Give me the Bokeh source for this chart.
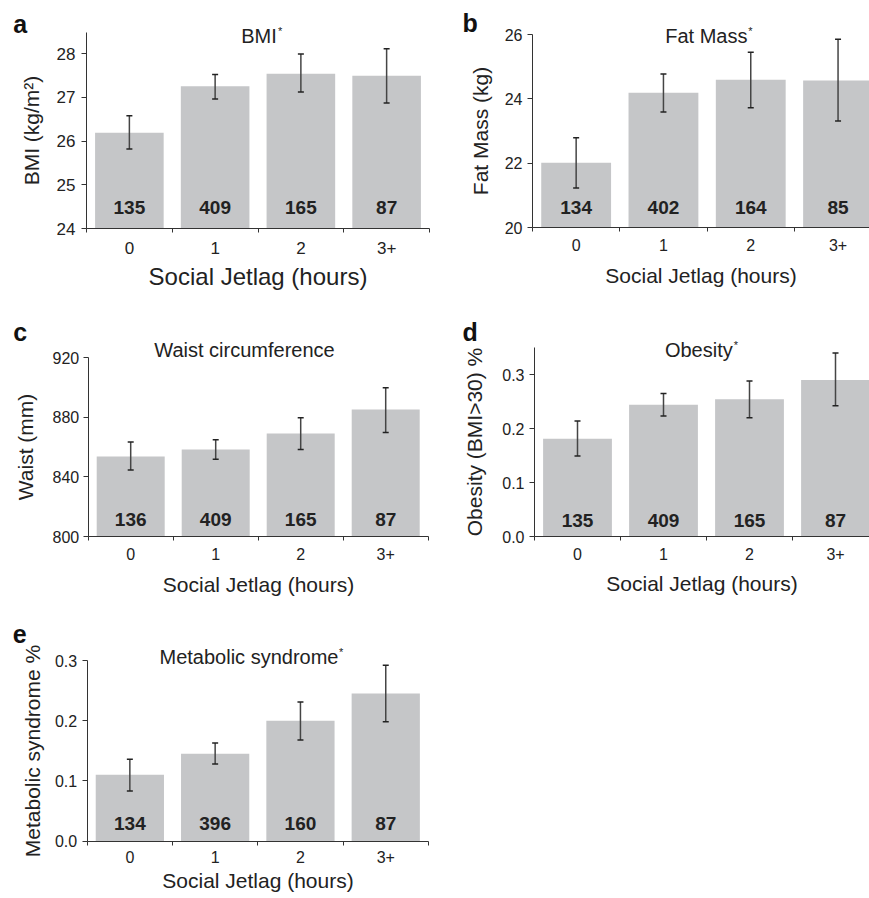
from bokeh.plotting import figure
from bokeh.layouts import column, row
from bokeh.models import (FixedTicker, Label, Range1d, ColumnDataSource, Whisker,
                          TeeHead, NumeralTickFormatter)
from bokeh.embed import file_html
from bokeh.resources import INLINE
from bokeh.core.properties import value

# ---------------- data ----------------
categories = ["0", "1", "2", "3+"]
xlabel = "Social Jetlag (hours)"

bmi_mean = [26.19, 27.25, 27.54, 27.49]
bmi_lo = [25.82, 26.96, 27.12, 26.87]
bmi_hi = [26.58, 27.52, 27.99, 28.11]
bmi_n = [135, 409, 165, 87]
bmi_ticks = [24, 25, 26, 27, 28]

fat_mean = [22.01, 24.19, 24.59, 24.57]
fat_lo = [21.23, 23.59, 23.72, 23.31]
fat_hi = [22.79, 24.77, 25.45, 25.85]
fat_n = [134, 402, 164, 85]
fat_ticks = [20, 22, 24, 26]

waist_mean = [853.7, 858.4, 869.2, 885.3]
waist_lo = [844.6, 851.9, 858.4, 869.9]
waist_hi = [863.4, 864.9, 879.7, 899.9]
waist_n = [136, 409, 165, 87]
waist_ticks = [800, 840, 880, 920]

obes_mean = [0.181, 0.244, 0.254, 0.290]
obes_lo = [0.149, 0.223, 0.220, 0.242]
obes_hi = [0.214, 0.265, 0.288, 0.340]
obes_n = [135, 409, 165, 87]
obes_ticks = [0.0, 0.1, 0.2, 0.3]

mets_mean = [0.110, 0.145, 0.200, 0.245]
mets_lo = [0.083, 0.128, 0.168, 0.198]
mets_hi = [0.136, 0.163, 0.231, 0.292]
mets_n = [134, 396, 160, 87]
mets_ticks = [0.0, 0.1, 0.2, 0.3]

# ---------------- style ----------------
FONT = "Liberation Sans"
BAR = "#c5c6c8"
ERR = "#454545"
INK = "#222222"
AXIS = "#333333"


def make_panel(letter, title, starred, ylabel, mean, lo, hi, n, yticks, yfmt,
               y0, ytop, W, H, geo, txt, sty):
    # geo: axis placement inside the figure (pixels): left, px per category,
    #      top (at ytop), bottom (at y0)
    L, ux, T, B = geo
    ppu = (B - T) / (ytop - y0)
    x_start = 0.5 - L / ux
    x_end = 0.5 + (W - L) / ux
    y_start = y0 - (H - B) / ppu
    y_end = ytop + T / ppu

    def dx(px):
        return x_start + px / ux

    def dy(py):
        return y_end - py / ppu

    xs = [i + 1 for i in range(len(categories))]
    p = figure(width=W, height=H, output_backend="svg", toolbar_location=None,
               x_range=Range1d(x_start, x_end), y_range=Range1d(y_start, y_end),
               min_border=0, min_border_left=0, min_border_right=0,
               min_border_top=0, min_border_bottom=0)
    p.outline_line_color = None
    p.grid.visible = False
    p.background_fill_color = "white"
    p.border_fill_color = "white"

    p.vbar(x=xs, top=mean, bottom=y0, width=0.8, fill_color=BAR, line_color=None)

    src = ColumnDataSource(dict(x=xs, lo=lo, hi=hi))
    wh = Whisker(source=src, base="x", lower="lo", upper="hi",
                 line_color=ERR, line_width=1.5, level="overlay",
                 upper_head=TeeHead(size=6, line_color="#222", line_width=1.5),
                 lower_head=TeeHead(size=6, line_color="#222", line_width=1.5))
    p.add_layout(wh)

    p.text(x=xs, y=[y0] * len(xs), text=[str(v) for v in n],
           text_align="center", text_baseline="middle", y_offset=-txt["count"],
           text_font=value(FONT), text_font_style="bold",
           text_font_size="19px", text_color=INK)

    # x axis: labels under the bars, tick marks at category boundaries
    xa = p.xaxis[0]
    xa.fixed_location = y0
    xa.bounds = (0.5, len(xs) + 0.5)
    xa.ticker = FixedTicker(ticks=xs,
                            minor_ticks=[x - 0.5 for x in xs] + [xs[-1] + 0.5])
    xa.major_label_overrides = {x: c for x, c in zip(xs, categories)}
    xa.major_tick_line_color = None
    xa.major_tick_out = 4
    xa.major_tick_in = 0
    xa.minor_tick_out = 4
    xa.minor_tick_in = 0
    xa.minor_tick_line_color = AXIS
    xa.major_label_standoff = sty["xstand"]
    xa.axis_label = xlabel
    xa.axis_label_standoff = sty["xlstand"]
    xa.axis_label_text_font_size = sty["xlsize"]
    xa.axis_label_text_font_style = "normal"

    ya = p.yaxis[0]
    ya.fixed_location = 0.5
    ya.bounds = (y0, ytop)
    ya.ticker = FixedTicker(ticks=yticks, minor_ticks=[])
    if yfmt:
        ya.formatter = NumeralTickFormatter(format=yfmt)
    ya.major_tick_out = 5
    ya.major_tick_in = 0
    ya.major_tick_line_color = AXIS
    ya.major_label_standoff = sty["ystand"]
    ya.axis_label = ylabel
    ya.axis_label_standoff = sty["ylstand"]
    ya.axis_label_text_font_size = "21px"
    ya.axis_label_text_font_style = "normal"

    for ax in (xa, ya):
        ax.axis_line_color = AXIS
        ax.axis_line_width = 1
        ax.major_label_text_font = FONT
        ax.major_label_text_font_size = sty["tick"]
        ax.major_label_text_color = INK
        ax.axis_label_text_font = FONT
        ax.axis_label_text_color = INK

    # panel title
    tx, ty = txt["title"]
    p.add_layout(Label(x=dx(tx), y=dy(ty), text=title, text_align="center",
                       text_baseline="middle", text_font=FONT,
                       text_font_size="20px", text_color=INK))
    if starred:
        p.add_layout(Label(x=dx(tx + txt["star"]), y=dy(ty - 5), text="*",
                           text_align="left", text_baseline="middle",
                           text_font=FONT, text_font_size="11px",
                           text_color=INK))
    # panel letter
    lx, ly = txt["letter"]
    p.add_layout(Label(x=dx(lx), y=dy(ly), text=letter, text_align="left",
                       text_baseline="middle", text_font=FONT,
                       text_font_style="bold", text_font_size="25px",
                       text_color="#111111"))
    return p


pa = make_panel("a", "BMI", True, "BMI (kg/m²)", bmi_mean, bmi_lo, bmi_hi,
                bmi_n, bmi_ticks, None, 24, 28.48, 430, 300,
                (86, 85.75, 32, 228),
                dict(count=21.3, title=(258.5, 35.8), star=19, letter=(12.7, 23)),
                dict(xstand=9, xlstand=6, xlsize="24px", tick="17px",
                     ystand=6, ylstand=11))
pb = make_panel("b", "Fat Mass", True, "Fat Mass (kg)", fat_mean, fat_lo,
                fat_hi, fat_n, fat_ticks, None, 20, 26, 439, 300,
                (102, 87.3, 34, 227),
                dict(count=20.5, title=(275.8, 35.8), star=42, letter=(32, 22)),
                dict(xstand=7, xlstand=10, xlsize="21px", tick="16px",
                     ystand=5, ylstand=10))
pc = make_panel("c", "Waist circumference", False, "Waist (mm)", waist_mean,
                waist_lo, waist_hi, waist_n, waist_ticks, None, 800, 920,
                430, 300, (87.7, 85, 57.3, 236),
                dict(count=17.5, title=(244, 49.1), star=0, letter=(12.7, 31.5)),
                dict(xstand=7, xlstand=10, xlsize="21px", tick="16px",
                     ystand=4, ylstand=13))
pd_ = make_panel("d", "Obesity", True, "Obesity (BMI>30) %", obes_mean,
                 obes_lo, obes_hi, obes_n, obes_ticks, "0.0", 0, 0.35,
                 439, 300, (104, 86, 47, 236),
                 dict(count=16.5, title=(268.3, 49.8), star=35,
                      letter=(32, 31.3)),
                 dict(xstand=7, xlstand=9, xlsize="21px", tick="16px",
                      ystand=5, ylstand=13))
pe = make_panel("e", "Metabolic syndrome", True, "Metabolic syndrome %",
                mets_mean, mets_lo, mets_hi, mets_n, mets_ticks, "0.0", 0, 0.3,
                430, 298, (86.7, 85.3, 60, 240.5),
                dict(count=17.2, title=(248.5, 56.4), star=90,
                     letter=(12.3, 33.5)),
                dict(xstand=6, xlstand=2, xlsize="21px", tick="16px",
                     ystand=5, ylstand=8))

layout = column(row(pa, pb), row(pc, pd_), pe)

open("out.html", "w").write(file_html(layout, INLINE))
